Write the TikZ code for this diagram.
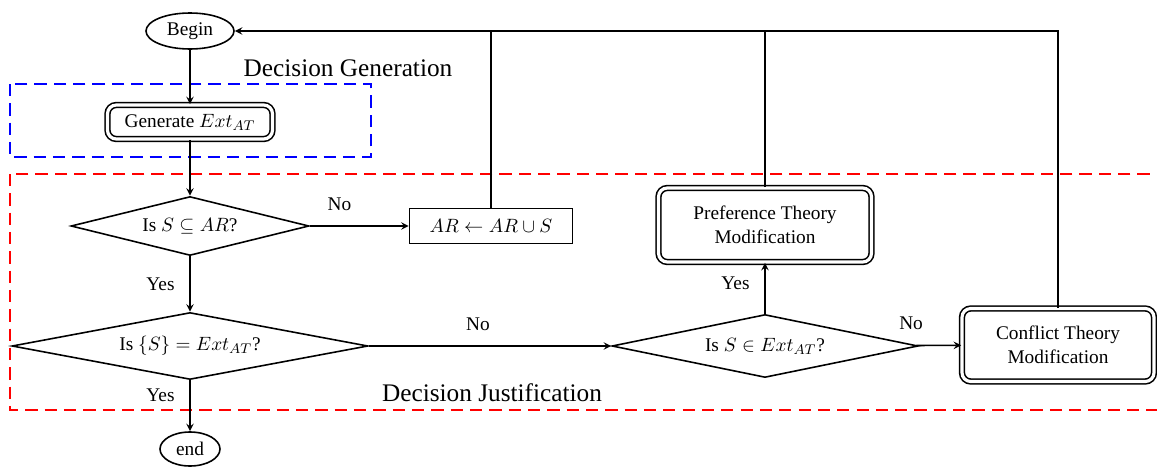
\documentclass[tikz,border=0pt]{standalone}
\usepackage{fontspec}
\setmainfont{Liberation Serif}
\usetikzlibrary{shapes.geometric,positioning}

\tikzset{
  term/.style={ellipse,draw,line width=0.9pt,inner sep=0pt},
  decide/.style={diamond,draw,line width=0.9pt,inner sep=0pt},
  proc/.style={rectangle,draw,line width=0.9pt,inner sep=0pt},
  modbox/.style={rectangle,rounded corners=5pt,draw,double,double distance=1.8pt,line width=0.9pt,align=center,inner sep=0pt},
  flow/.style={->,>=stealth,line width=0.9pt},
  zone/.style={dashed,line width=1pt,dash pattern=on 7pt off 4pt},
}

\begin{document}
\begin{tikzpicture}[font=\fontsize{11}{13.5}\selectfont]
  \useasboundingbox (0,0) rectangle (23.14,9.34);
  % boxes round the two phases
  \draw[zone,blue] (0.2,7.66) rectangle (7.42,6.2);
  \draw[zone,red] (0.2,5.86) rectangle (23.5,1.14);
  \node (gentitle) at (6.96,7.98) {\Large Decision Generation};
  \node (justitle) at (9.84,1.48) {\Large Decision Justification};

  \node[term,minimum width=1.76cm,minimum height=0.72cm] (begin) at (3.8,8.72) {Begin};
  \node[modbox,minimum width=3.3cm,minimum height=0.68cm] (gen) at (3.8,6.9) {Generate $Ext_{AT}$};
  \node[decide,aspect=4,minimum width=4.76cm,minimum height=1.18cm] (sub) at (3.8,4.82) {Is $S\subseteq AR$?};
  \node[proc,minimum width=3.26cm,minimum height=0.7cm] (upd) at (9.82,4.82) {$AR\leftarrow AR\cup S$};
  \node[decide,aspect=5.3,minimum width=7.12cm,minimum height=1.34cm] (eq) at (3.8,2.42) {Is $\{S\}=Ext_{AT}$?};
  \node[decide,aspect=4.86,minimum width=6.12cm,minimum height=1.26cm] (in) at (15.3,2.42) {Is $S\in Ext_{AT}$?};
  \node[modbox,minimum width=4.26cm,minimum height=1.48cm] (pref) at (15.3,4.84) {Preference Theory\\Modification};
  \node[modbox,minimum width=3.84cm,minimum height=1.46cm] (conf) at (21.16,2.44) {Conflict Theory\\Modification};
  \node[term,minimum width=1.2cm,minimum height=0.68cm] (end) at (3.8,0.36) {end};

  \draw[flow] (begin) -- (gen);
  \draw[flow] (gen) -- (sub);
  \draw[flow] (sub) -- node[above=5pt,pos=0.3] (no1) {No} (upd);
  \draw[flow] (sub) -- node[left=5pt] (yes1) {Yes} (eq);
  \draw[flow] (eq) -- node[above=5pt,pos=0.45] (no2) {No} (in);
  \draw[flow] (eq) -- node[left=5pt,pos=0.3] (yes2) {Yes} (end);
  \draw[flow] (in) -- node[left=5pt,pos=0.6] (yes3) {Yes} (pref);
  \draw[flow] (in) -- node[above=5pt,pos=0,xshift=-3pt] (no3) {No} (conf);
  % feedback to Begin
  \draw[flow] (conf) |- (begin);
  \draw[line width=0.9pt] (upd) -- (upd |- begin);
  \draw[line width=0.9pt] (pref) -- (pref |- begin);
\end{tikzpicture}
\end{document}
